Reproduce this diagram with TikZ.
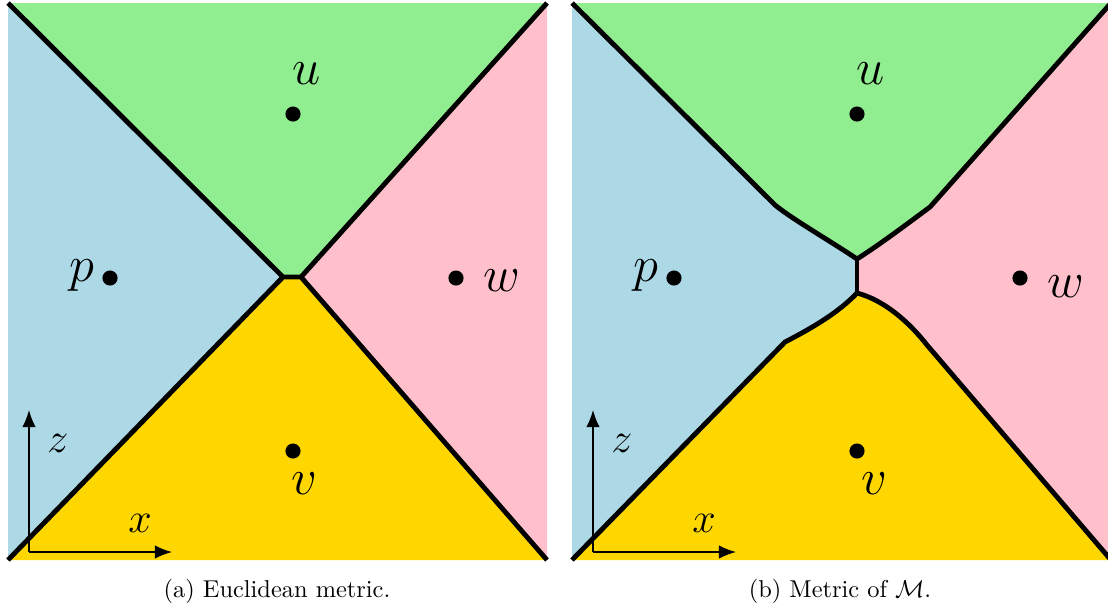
\documentclass[tikz,border=0pt]{standalone}
\usepackage{amsmath,amssymb}
\usepackage{tikz}
\usetikzlibrary{arrows.meta}
\definecolor{regblue}{HTML}{ADD8E6}
\definecolor{reggreen}{HTML}{90EE90}
\definecolor{regpink}{HTML}{FFC0CB}
\definecolor{reggold}{HTML}{FFD700}
\tikzset{
  cell/.style={line width=2pt},
  site/.style={circle, fill=black, inner sep=0pt, minimum size=6.2pt},
  sitelabel/.style={font=\huge, inner sep=0pt},
  axis/.style={semithick, -{Latex[length=7pt,width=5.5pt]}},
  axislabel/.style={font=\LARGE, inner sep=0pt},
}
\begin{document}
\begin{tikzpicture}[x=0.41pt, y=-0.41pt]
    \clip (0,0) rectangle (1108,605);
    % Euclidean metric
    \begin{scope}[shift={(0,0)}, name prefix=a-]
        \coordinate (tl) at (8,3);
        \coordinate (tr) at (547,3);
        \coordinate (bl) at (8,560);
        \coordinate (br) at (547,560);
        \coordinate (jl) at (283,277);
        \coordinate (jr) at (301,277);
        \fill[regblue] (tl) -- (jl) -- (bl) -- cycle;
        \fill[reggreen] (tl) -- (tr) -- (jr) -- (jl) -- cycle;
        \fill[regpink] (tr) -- (br) -- (jr) -- cycle;
        \fill[reggold] (bl) -- (jl) -- (jr) -- (br) -- cycle;
        \draw[cell] (tl) -- (jl) -- (bl) (jl) -- (jr) (tr) -- (jr) -- (br);
        \node[site] (u) at (293,114) {};
        \node[site] (p) at (110,278) {};
        \node[site] (w) at (456,278) {};
        \node[site] (v) at (293,451) {};
        \node[sitelabel] (ulab) at (307,74) {$u$};
        \node[sitelabel] (plab) at (82,276) {$p$};
        \node[sitelabel] (wlab) at (502,281) {$w$};
        \node[sitelabel] (vlab) at (304,484) {$v$};
        \coordinate (o) at (29,552);
        \coordinate (zend) at (29,410);
        \coordinate (xend) at (172,552);
        \draw[axis] (o) -- (zend);
        \draw[axis] (o) -- (xend);
        \node[axislabel] (zlab) at (58,443) {$z$};
        \node[axislabel] (xlab) at (140,523) {$x$};
        \node (cap) at (277,591) {(a) Euclidean metric.};
    \end{scope}

    % Metric of M
    \begin{scope}[shift={(564,0)}, name prefix=b-]
        \coordinate (tl) at (8,3);
        \coordinate (tr) at (547,3);
        \coordinate (bl) at (8,560);
        \coordinate (br) at (547,560);
        \coordinate (ul) at (211,205);
        \coordinate (ur) at (366,207);
        \coordinate (ll) at (221,342);
        \coordinate (lr) at (363,345);
        \coordinate (jt) at (293,259);
        \coordinate (jb) at (293,293);
        \fill[regblue] (tl) rectangle (br);
        \fill[reggreen] (tl) -- (ul) .. controls (228,219) and (268,242) .. (jt)
            .. controls (318,243) and (343,224) .. (ur) -- (tr) -- cycle;
        \fill[regpink] (tr) -- (ur) .. controls (343,224) and (318,243) .. (jt) -- (jb)
            .. controls (320,300) and (345,322) .. (lr) -- (br) -- cycle;
        \fill[reggold] (bl) -- (ll) .. controls (250,327) and (275,312) .. (jb)
            .. controls (320,300) and (345,322) .. (lr) -- (br) -- cycle;
        \draw[cell] (tl) -- (ul) .. controls (228,219) and (268,242) .. (jt)
            .. controls (318,243) and (343,224) .. (ur) -- (tr);
        \draw[cell] (jt) -- (jb);
        \draw[cell] (bl) -- (ll) .. controls (250,327) and (275,312) .. (jb)
            .. controls (320,300) and (345,322) .. (lr) -- (br);
        \node[site] (u) at (293,114) {};
        \node[site] (p) at (110,278) {};
        \node[site] (w) at (456,278) {};
        \node[site] (v) at (293,451) {};
        \node[sitelabel] (ulab) at (307,74) {$u$};
        \node[sitelabel] (plab) at (82,276) {$p$};
        \node[sitelabel] (wlab) at (502,287) {$w$};
        \node[sitelabel] (vlab) at (310,484) {$v$};
        \coordinate (o) at (29,552);
        \coordinate (zend) at (29,410);
        \coordinate (xend) at (172,552);
        \draw[axis] (o) -- (zend);
        \draw[axis] (o) -- (xend);
        \node[axislabel] (zlab) at (58,443) {$z$};
        \node[axislabel] (xlab) at (140,523) {$x$};
        \node (cap) at (276,591) {(b) Metric of $\mathcal{M}$.};
    \end{scope}
\end{tikzpicture}
\end{document}
